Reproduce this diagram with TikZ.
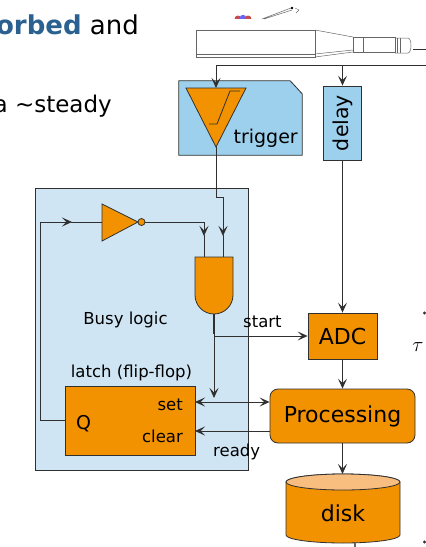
\documentclass[tikz,border=0pt]{standalone}
\usepackage{fontspec}
\setmainfont{DejaVu Sans}
\usetikzlibrary{arrows.meta,positioning,calc}
\definecolor{boxorange}{HTML}{F39200}
\definecolor{diskorange}{HTML}{F8BE80}
\definecolor{trigblue}{HTML}{9DD0EC}
\definecolor{busyblue}{HTML}{CFE5F3}
\definecolor{titleblue}{HTML}{2B6190}
\definecolor{wirecol}{HTML}{303030}
\definecolor{pmtgray}{HTML}{666666}

\begin{document}
\begin{tikzpicture}[
    x=1pt, y=-1pt,
    >={Stealth[length=10pt,width=9pt,inset=4.5pt]},
    wire/.style={draw=wirecol, line width=1pt},
    sig/.style={wire, ->},
    orangebox/.style={draw=wirecol, line width=0.8pt, fill=boxorange, inner sep=0pt},
    bluebox/.style={draw=wirecol, line width=0.8pt, fill=trigblue, inner sep=0pt},
    pmt/.style={draw=pmtgray, line width=0.5pt},
    lbl/.style={font=\fontsize{16.5}{18}\selectfont, inner sep=0pt},
    big/.style={font=\fontsize{22}{24}\selectfont, inner sep=0pt},
    slide/.style={font=\fontsize{26}{30}\selectfont, inner sep=0pt}
]
\useasboundingbox (0,0) rectangle (426,547);
\clip (0,0) rectangle (426,547);

% slide text
\node[slide, anchor=base east] (absorbed) at (139,34) {\textbf{\color{titleblue}orbed} and};
\node[slide, font=\fontsize{23}{28}\selectfont, anchor=base east] (steady) at (112,112) {a \textasciitilde steady};
\node[font=\fontsize{21}{24}\selectfont, inner sep=0pt] (tau) at (418,347) {$\tau$};
\fill[wirecol] (424.5,313) circle (1.6);
\fill[wirecol] (424.5,542) circle (1.6);

% scintillator and photomultiplier
\draw[pmt] (196,30) rectangle (315,57);
\draw[pmt] (196,54) -- (315,54);
\draw[pmt] (315,30) -- (353,37) (315,57) -- (353,52) (315,54) -- (353,50);
\draw[pmt] (353,37) rectangle (363,52);
\draw[pmt] (363,37) rectangle (395,52);
\draw[pmt] (395,38) -- (408,38) arc[start angle=-90, end angle=90, x radius=3, y radius=7.5] -- (395,53);
\draw[pmt] (397,38) -- (397,53) (400,38) -- (400,53);
\draw[wirecol, line width=0.8pt] (413,49) -- (426,49);
\fill[red!70!black!70] (238,19) circle (3.5);
\fill[blue!60!white] (243,18) circle (3.2);
\fill[red!70!black!70] (248,19) circle (3.5);
\fill[white] (228,19) rectangle (258,26);
\draw[pmtgray, line width=0.5pt] (262,19) -- (291,8) (264,19) -- (292,10);
\fill[black] (292,8) circle (1.4);
\draw[pmtgray, line width=0.4pt] (295,8) -- (299,10) -- (296,13);

% busy logic box
\node[draw=wirecol, line width=0.8pt, fill=busyblue, minimum width=213pt, minimum height=282pt, inner sep=0pt] (busy) at (141.5,329) {};
\node[lbl, anchor=base] (busylbl) at (125.5,324) {Busy logic};
\node[lbl, anchor=base] (latchlbl) at (131.5,377) {latch (flip-flop)};

% trigger and delay
\node[minimum width=123pt, minimum height=74pt, inner sep=0pt] (trigger) at (240.5,118) {};
\draw[bluebox] (trigger.south west) -- (trigger.north west) -- ($(trigger.north east)+(-12,0)$) -- ($(trigger.north east)+(0,13)$) -- (trigger.south east) -- cycle;
\coordinate (tritop) at (216,88);
\coordinate (triapex) at (216,147);
\draw[orangebox] (186,88) -- (246,88) -- (triapex) -- cycle;
\draw[wirecol, line width=0.8pt] (209,124) -- (217,124) -- (230,91) -- (240,91);
\node[lbl, font=\fontsize{19}{22}\selectfont, anchor=base east] (triglbl) at (298,143) {trigger};
\node[bluebox, minimum width=38pt, minimum height=74pt] (delay) at (342.5,123) {};
\node[big, font=\fontsize{20.5}{22}\selectfont, rotate=90] (delaylbl) at (delay.center) {delay};

% gates
\coordinate (invin) at (102,222);
\coordinate (invout) at (145,222);
\draw[orangebox] (invin |- 0,204) -- (138,222) -- (invin |- 0,241) -- cycle;
\draw[orangebox] (141.5,222) circle (3.5);
\coordinate (andA) at (204,257);
\coordinate (andB) at (223,257);
\coordinate (andout) at (214,314);
\draw[orangebox] (195,257) -- (233,257) -- (233,295) arc[start angle=0, end angle=180, radius=19] -- cycle;

% data path
\node[orangebox, big, minimum width=69pt, minimum height=46pt] (adc) at (342.5,336) {ADC};
\node[orangebox, big, rounded corners=8pt, minimum width=145pt, minimum height=54pt] (proc) at (342.5,416) {Processing};
\node[orangebox, minimum width=130pt, minimum height=69pt] (latch) at (130,420.5) {};
\node[lbl, font=\fontsize{19}{22}\selectfont, anchor=base west] (q) at (76,429) {Q};
\node[lbl, anchor=base east] (setlbl) at (183,410) {set};
\node[lbl, anchor=base east] (clrlbl) at (183,442) {clear};
\coordinate (setin) at (195,402);
\coordinate (clrin) at (195,431);

% disk
\fill[boxorange, draw=wirecol, line width=0.8pt] (286,482) -- (286,535) arc[start angle=180, end angle=0, x radius=57, y radius=8] -- (400,482) arc[start angle=0, end angle=-180, x radius=57, y radius=8] -- cycle;
\draw[fill=diskorange, draw=wirecol, line width=0.8pt] (343,482) ellipse[x radius=57, y radius=8];
\coordinate (disktop) at (342.5,474);
\node[big, anchor=base] (disk) at (343,521) {disk};
\draw[pmtgray, line width=2.5pt] (355,543) -- (355,547);

% signals
\coordinate (sigin) at (426,65);
\draw[sig] (sigin) -| (tritop);
\draw[sig] (delay.north |- sigin) -- (delay.north);
\draw[sig] (triapex) -- (216,197) -| ($(andB)+(0,-21)$);
\draw[wire] ($(andB)+(0,-22)$) -- (andB);
\draw[sig] (invout) -| ($(andA)+(0,-21)$);
\draw[wire] ($(andA)+(0,-22)$) -- (andA);
\draw[sig] (latch.west) -- ++(-24,0) |- ($(invin)+(-30,0)$);
\draw[wire] ($(invin)+(-31,0)$) -- (invin);
\draw[wirecol, line width=1.8pt] (andout) -- ++(0,20);
\draw[sig] (andout) -- ++(0,84);
\draw[sig] (andout |- adc.west) -- (adc.west);
\node[lbl, anchor=base west] (startlbl) at (243,327) {start};
\draw[sig] (delay.south) -- (adc.north);
\draw[sig] (adc.south) -- (proc.north);
\draw[sig] (proc.south) -- (disktop);
\draw[wire, <->] (setin) -- (proc.west |- setin);
\draw[sig] (proc.west |- clrin) -- (clrin);
\node[lbl, anchor=base west] (readylbl) at (213,456) {ready};
\end{tikzpicture}
\end{document}
